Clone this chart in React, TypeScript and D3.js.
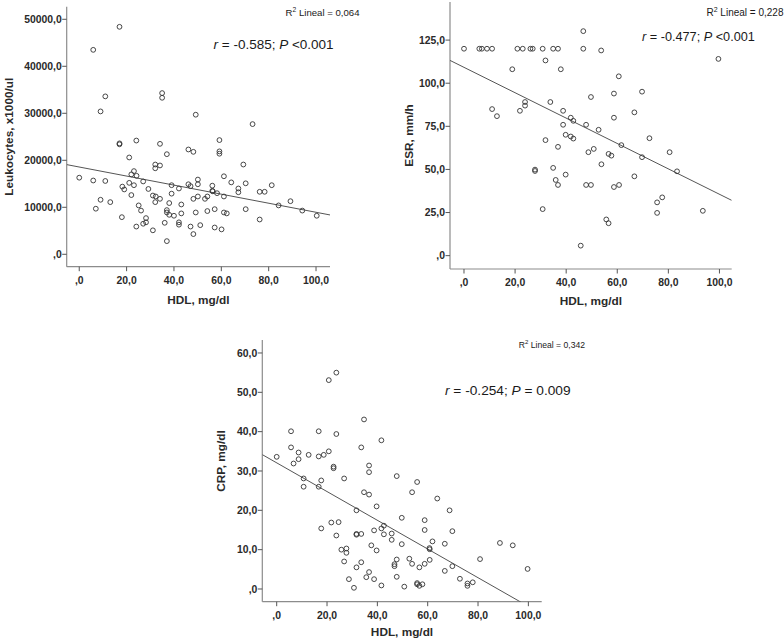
import React from "react";
import * as d3 from "d3";

// ---------- data ----------
const hdlTicks = [0, 20, 40, 60, 80, 100];

const leukoTicks = [0, 10000, 20000, 30000, 40000, 50000];
const leukoHdl = [0, 5.9, 7, 5.9, 9, 9, 11, 11, 13.1, 17, 17, 17, 18, 18.2, 19, 21.1, 21.1, 22, 23.1, 24.1, 23.1, 24.2, 22, 24.1, 25.1, 26.1, 27, 28.2, 27, 28.2, 29.2, 31.1, 31.1, 32.1, 32.1, 32.1, 32.3, 34.1, 34.1, 34.1, 35, 35, 36.1, 37, 37, 37, 37, 38, 38, 39, 39, 40, 42.1, 42.1, 42.1, 43.1, 43.1, 46.1, 46.1, 47, 47, 48.2, 48.2, 48.2, 49.2, 49.2, 50.1, 50.1, 50.1, 51.1, 53.1, 54.1, 54.1, 56.2, 56.2, 56.4, 57.2, 57.2, 58.2, 59.2, 59.2, 59.2, 60.1, 61.1, 61.1, 61.1, 62.3, 64.2, 67.2, 67.2, 69.3, 70.3, 70.3, 73.2, 76.2, 76.2, 78.3, 81.3, 84.2, 89.2, 94.2, 100.3];
const leukoVal = [16300, 15700, 9700, 43500, 11600, 30400, 33600, 15600, 11100, 48400, 23600, 23400, 7900, 14400, 13800, 20600, 15200, 17000, 17700, 24200, 14700, 16700, 12600, 5900, 10400, 9300, 15500, 7700, 6500, 6800, 13900, 5100, 12500, 19100, 18300, 11100, 12300, 23500, 18900, 11800, 34300, 33300, 6700, 21300, 2800, 9400, 8900, 10900, 8400, 14700, 12900, 8200, 14000, 6800, 6300, 10600, 8700, 22300, 14900, 14500, 5900, 21800, 11800, 4300, 29700, 8900, 15900, 14900, 12300, 6200, 11800, 12300, 9200, 14600, 13500, 13400, 9600, 5700, 13000, 24300, 21900, 21400, 5300, 16600, 12300, 8900, 8700, 15300, 14000, 13200, 19100, 15100, 9600, 27700, 13300, 7400, 13300, 14700, 10400, 11300, 9300, 8200];
const leukoFit = [18570, -96.3];

const esrTicks = [0, 25, 50, 75, 100, 125];
const esrHdl = [0, 6, 7, 9, 11, 20.9, 23, 26, 26.9, 30.8, 34.9, 36.8, 46.7, 46.7, 53.7, 31.9, 18.9, 37.9, 60.6, 49.7, 58.7, 69.7, 11, 12.9, 21.9, 23.9, 23.9, 33.8, 38.8, 41.8, 42.8, 38.8, 47.8, 58.7, 66.7, 39.8, 41.8, 42.8, 31.9, 52.7, 72.6, 36.8, 61.6, 48.7, 50.8, 56.6, 57.7, 69.7, 80.5, 83.4, 27.8, 27.8, 34.9, 53.8, 35.9, 36.8, 39.8, 47.8, 49.7, 58.7, 60.7, 66.7, 75.6, 77.6, 75.6, 93.5, 30.8, 55.7, 56.6, 45.7, 99.6];
const esrVal = [120, 120, 120, 120, 120, 120, 120, 120, 120, 120, 120, 120, 120, 130.2, 119, 113.2, 108.1, 108.1, 104, 92, 94, 95.1, 85, 80.9, 84, 89.1, 87, 89.1, 84, 80, 78.2, 75.9, 75.9, 80, 83.1, 70.1, 69.1, 67.9, 67, 73, 68.1, 63.1, 64.1, 60, 61.9, 59, 58, 57.1, 60, 48.9, 49.9, 49.1, 50.9, 53, 43.9, 41, 47, 41, 41, 39.8, 41, 46, 30.9, 33.8, 24.8, 26, 27, 21, 18.8, 5.8, 114.1];
const esrFit = [109.2, -0.736];

const crpTicks = [0, 10, 20, 30, 40, 50, 60];
const crpHdl = [0, 5.7, 5.7, 6.7, 8.7, 8.7, 10.7, 10.7, 12.7, 16.7, 16.7, 16.7, 17.7, 17.7, 18.7, 20.7, 20.7, 23.7, 23.7, 22.6, 22.6, 21.7, 24.6, 23.7, 26.8, 25.7, 27.7, 27.7, 26.8, 28.7, 30.7, 31.7, 31.7, 31.7, 31.7, 33.6, 33.6, 33.6, 34.7, 34.7, 35.6, 36.7, 36.7, 36.7, 36.7, 37.6, 38.7, 38.7, 39.7, 39.7, 41.6, 41.6, 41.6, 42.6, 42.6, 45.7, 45.7, 46.8, 46.8, 47.7, 47.7, 47.7, 49.7, 49.7, 50.7, 52.7, 53.8, 53.8, 55.8, 55.8, 55.8, 56.7, 57.9, 56.7, 58.8, 58.8, 58.8, 60.7, 60.8, 60.8, 61.9, 63.8, 66.8, 66.8, 68.7, 69.8, 69.8, 72.8, 75.8, 75.8, 77.9, 80.8, 88.7, 93.8, 99.7];
const crpVal = [33.6, 40.1, 36.0, 31.9, 34.7, 33.0, 28.1, 26.0, 34.1, 40.1, 33.7, 26.0, 27.6, 15.4, 34.1, 35.0, 53.1, 55.0, 39.4, 31.1, 30.7, 16.9, 17.0, 13.6, 28.1, 10.0, 10.3, 9.2, 7.0, 2.5, 0.3, 20.0, 14.0, 13.8, 5.5, 14.0, 6.8, 36.0, 43.1, 24.6, 3.0, 31.4, 29.7, 24.0, 4.3, 11.1, 14.9, 2.5, 21.0, 9.8, 37.8, 15.4, 0.9, 16.1, 13.9, 14.1, 12.5, 6.3, 5.8, 28.7, 7.5, 3.1, 18.1, 11.4, 0.6, 7.7, 24.6, 6.4, 27.2, 1.5, 1.2, 0.8, 1.2, 5.5, 17.5, 15.0, 6.4, 10.4, 10.1, 7.4, 12.1, 23.0, 11.5, 4.6, 20.0, 14.7, 5.8, 2.6, 1.4, 0.8, 1.7, 7.6, 11.7, 11.1, 5.1];
const crpFit = [32.07, -0.365];

const yTitles = ["Leukocytes, x1000/ul", "ESR, mm/h", "CRP, mg/dl"];
const xTitle = "HDL, mg/dl";
const r2Texts = ["0,064", "0,228", "0,342"];
const rTexts = [
  ["-0.585", "<0.001"],
  ["-0.477", "<0.001"],
  ["-0.254", "= 0.009"],
];

// ---------- layout ----------
const FONT = "'Liberation Sans', Arial, Helvetica, sans-serif";

type PanelCfg = {
  id: string;
  xs: number[];
  ys: number[];
  fit: number[];
  yTicks: number[];
  xDom: [number, number];
  yDom: [number, number];
  left: number;
  right: number;
  top: number;
  bottom: number;
  xTitleOff: number;
  yTitle: string;
  yTitleX: number;
  yTitleY: number;
  r2: string;
  r2X: number;
  r2Y: number;
  rv: string[];
  rX: number;
  rY: number;
  rSize: number;
  r2Size: number;
};

const panels: PanelCfg[] = [
  {
    id: "p1", xs: leukoHdl, ys: leukoVal, fit: leukoFit, yTicks: leukoTicks,
    xDom: [-5.3, 105.9], yDom: [-2640, 52680],
    left: 66.7, right: 330, top: 6.7, bottom: 266.7, xTitleOff: 37.5,
    yTitle: yTitles[0], yTitleX: 12.5, yTitleY: 136.7,
    r2: r2Texts[0], r2X: 359.5, r2Y: 16, rv: rTexts[0], rX: 213.5, rY: 49, rSize: 13.5, r2Size: 9.6,
  },
  {
    id: "p2", xs: esrHdl, ys: esrVal, fit: esrFit, yTicks: esrTicks,
    xDom: [-5.48, 104.8], yDom: [-7.74, 147.1],
    left: 450, right: 731.7, top: 2, bottom: 269, xTitleOff: 36,
    yTitle: yTitles[1], yTitleX: 412.5, yTitleY: 135.5,
    r2: r2Texts[1], r2X: 783.5, r2Y: 16, rv: rTexts[1], rX: 642, rY: 41, rSize: 12.7, r2Size: 10,
  },
  {
    id: "p3", xs: crpHdl, ys: crpVal, fit: crpFit, yTicks: crpTicks,
    xDom: [-5.72, 105.3], yDom: [-3.23, 63.3],
    left: 262.3, right: 541.7, top: 340, bottom: 601.7, xTitleOff: 34.5,
    yTitle: yTitles[2], yTitleX: 224.5, yTitleY: 461,
    r2: r2Texts[2], r2X: 585, r2Y: 348, rv: rTexts[2], rX: 445, rY: 395, rSize: 13.7, r2Size: 8.6,
  },
];

const fmt = (v: number) => (v === 0 ? "" : String(v)) + ",0";

function Panel({ p }: { p: PanelCfg }) {
  const x = d3.scaleLinear().domain(p.xDom).range([p.left, p.right]);
  const y = d3.scaleLinear().domain(p.yDom).range([p.bottom, p.top]);
  const line = d3
    .line<number>()
    .x((d) => x(d))
    .y((d) => y(p.fit[0] + p.fit[1] * d));
  const pts = d3.zip(p.xs, p.ys);
  const tickCol = "#555";
  const axisCol = "#8c8c8c";
  const labCol = "#1a1a1a";
  return (
    <g>
      <defs>
        <clipPath id={"clip-" + p.id}>
          <rect x={p.left} y={p.top} width={p.right - p.left} height={p.bottom - p.top} />
        </clipPath>
      </defs>
      {/* axes */}
      <line x1={p.left} x2={p.left} y1={p.top} y2={p.bottom} stroke={axisCol} strokeWidth={1.2} />
      <line x1={p.left} x2={p.right} y1={p.bottom} y2={p.bottom} stroke={axisCol} strokeWidth={1.2} />
      {p.yTicks.map((t) => (
        <g key={"y" + t}>
          <line x1={p.left - 4.5} x2={p.left} y1={y(t)} y2={y(t)} stroke={tickCol} strokeWidth={1} />
          <text x={p.left - 5} y={y(t) + 3.8} textAnchor="end" fontSize={10.4} fontWeight="bold" fontFamily={FONT} fill="#2a2a2a">
            {fmt(t)}
          </text>
        </g>
      ))}
      {hdlTicks.map((t) => (
        <g key={"x" + t}>
          <line x1={x(t)} x2={x(t)} y1={p.bottom} y2={p.bottom + 4.5} stroke={tickCol} strokeWidth={1} />
          <text x={x(t)} y={p.bottom + 17} textAnchor="middle" fontSize={10.4} fontWeight="bold" fontFamily={FONT} fill="#2a2a2a">
            {fmt(t)}
          </text>
        </g>
      ))}
      {/* titles */}
      <text
        x={(p.left + p.right) / 2}
        y={p.bottom + p.xTitleOff}
        textAnchor="middle"
        fontSize={11.8}
        fontWeight="bold"
        fontFamily={FONT}
        fill="#2a2a2a"
      >
        {xTitle}
      </text>
      <text
        transform={`translate(${p.yTitleX},${p.yTitleY}) rotate(-90)`}
        textAnchor="middle"
        fontSize={11.8}
        fontWeight="bold"
        fontFamily={FONT}
        fill="#2a2a2a"
      >
        {p.yTitle}
      </text>
      {/* fit line */}
      <path d={line(p.xDom) || ""} stroke="#555" strokeWidth={1} fill="none" clipPath={`url(#clip-${p.id})`} />
      {/* points */}
      {pts.map((d, i) => (
        <circle key={i} cx={x(d[0])} cy={y(d[1])} r={2.4} fill="#fff" fillOpacity={0} stroke="#333" strokeWidth={0.9} />
      ))}
      {/* annotations */}
      <text x={p.r2X} y={p.r2Y} textAnchor="end" fontSize={p.r2Size} fontFamily={FONT} fill={labCol}>
        R<tspan fontSize={p.r2Size * 0.7} dy={-4}>2</tspan>
        <tspan dy={4}> Lineal = {p.r2}</tspan>
      </text>
      <text x={p.rX} y={p.rY} fontSize={p.rSize} fontFamily={FONT} fill={labCol}>
        <tspan fontStyle="italic">r</tspan>
        {` = ${p.rv[0]}; `}
        <tspan fontStyle="italic">P</tspan>
        {` ${p.rv[1]}`}
      </text>
    </g>
  );
}

export default function App() {
  return (
    <svg
      width={784}
      height={640}
      viewBox="0 0 784 640"
      style={{ position: "absolute", left: 0, top: 0, background: "#fff" }}
    >
      <rect x={0} y={0} width={784} height={640} fill="#fff" />
      {panels.map((p) => (
        <Panel key={p.id} p={p} />
      ))}
    </svg>
  );
}
